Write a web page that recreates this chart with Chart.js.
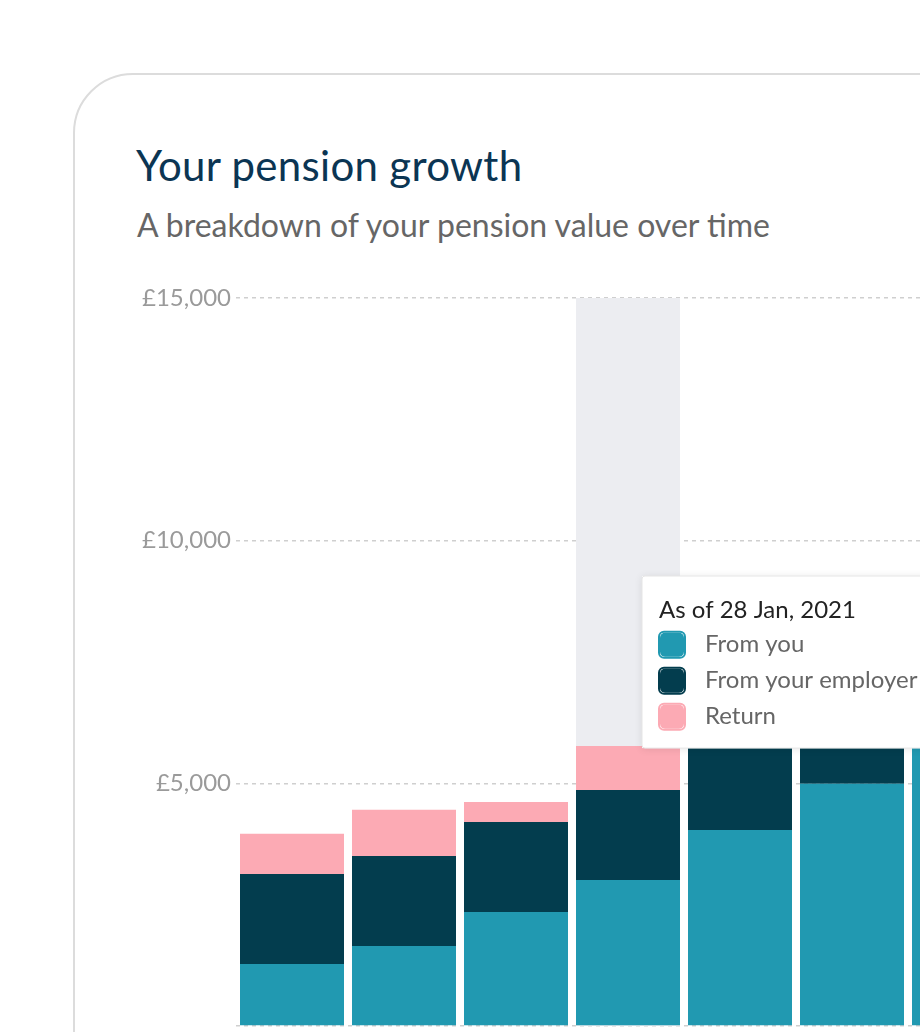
<!DOCTYPE html>
<html>
<head>
<meta charset="utf-8">
<script src="https://cdn.jsdelivr.net/npm/chart.js@4.4.1/dist/chart.umd.min.js"></script>
<style>
  html, body { margin: 0; padding: 0; background: #fff; overflow: hidden; width: 920px; height: 1032px; }
  .card {
    position: absolute; left: 73px; top: 73px; width: 1300px; height: 1300px;
    border: 2px solid #dcdcdc; border-radius: 60px; box-sizing: border-box; background: #fff;
  }
  h1 {
    position: absolute; left: 136px; top: 140px; margin: 0;
    font: 400 42px/1.2 Lato, sans-serif; color: #0b3553; white-space: nowrap; letter-spacing: 0.3px;
  }
  p.sub {
    position: absolute; left: 137px; top: 206px; margin: 0;
    font: 400 32px/1.2 Lato, sans-serif; color: #666; white-space: nowrap;
  }
  .chart-box { position: absolute; left: 100px; top: 248px; width: 1100px; height: 800px; }
</style>
</head>
<body>
<div class="card"></div>
<h1>Your pension growth</h1>
<p class="sub">A breakdown of your pension value over time</p>
<div class="chart-box"><canvas id="pensionChart"></canvas></div>

<script>
// monthly snapshots
const dates = ['28 Oct, 2020', '28 Nov, 2020', '28 Dec, 2020', '28 Jan, 2021',
               '28 Feb, 2021', '28 Mar, 2021', '28 Apr, 2021', '28 May, 2021'];
const fromYou = [1280, 1650, 2350, 3010, 4040, 4990, 6100, 6900];
const fromEmployer = [1850, 1855, 1855, 1855, 1950, 2000, 2000, 2100];
const returns = [830, 950, 410, 905, 1000, 1100, 900, 1200];
const yTicks = [0, 5000, 10000, 15000];
const activeIndex = 3;

const TEAL = '#2199b1';
const NAVY = '#033d4e';
const PINK = '#fcaab4';

// grey column behind the hovered bar
const hoverColumn = {
  id: 'hoverColumn',
  beforeDatasetsDraw(chart) {
    const active = chart.tooltip.getActiveElements();
    if (!active.length) return;
    const el = active[0].element;
    const area = chart.chartArea;
    const ctx = chart.ctx;
    ctx.save();
    ctx.fillStyle = '#ecedf1';
    ctx.fillRect(el.x - el.width / 2, area.top, el.width, area.bottom - area.top);
    ctx.restore();
  },
  beforeTooltipDraw(chart) {
    const tt = chart.tooltip;
    if (!tt.opacity) return;
    const ctx = chart.ctx;
    ctx.save();
    ctx.shadowColor = 'rgba(0,0,0,0.10)';
    ctx.shadowBlur = 8;
    ctx.shadowOffsetY = 1;
    ctx.fillStyle = '#fff';
    ctx.fillRect(tt.x, tt.y, tt.width, tt.height);
    ctx.restore();
  }
};

Chart.Tooltip.positioners.nextToBar = function (elements, eventPosition) {
  if (!elements.length) return false;
  return { x: elements[0].element.x + 17, y: eventPosition.y };
};

const ctx = document.getElementById('pensionChart');
const chart = new Chart(ctx, {
  type: 'bar',
  data: {
    labels: dates,
    datasets: [
      { label: 'From you', data: fromYou, backgroundColor: TEAL, hoverBackgroundColor: TEAL },
      { label: 'From your employer', data: fromEmployer, backgroundColor: NAVY, hoverBackgroundColor: NAVY },
      { label: 'Return', data: returns, backgroundColor: PINK, hoverBackgroundColor: PINK }
    ]
  },
  plugins: [hoverColumn],
  options: {
    responsive: true,
    maintainAspectRatio: false,
    animation: false,
    events: [],
    layout: { padding: { top: 50, bottom: 22, left: 0, right: 68 } },
    datasets: {
      bar: { barPercentage: 104 / 112, categoryPercentage: 1, borderWidth: 0 }
    },
    scales: {
      x: { stacked: true, display: false },
      y: {
        stacked: true,
        min: 0,
        max: 15000,
        afterFit(scale) { scale.width = 136; },
        afterBuildTicks(scale) { scale.ticks = yTicks.map(v => ({ value: v })); },
        border: { display: false, dash: [4, 4] },
        grid: { color: '#cfcfcf', lineWidth: 1.5, drawTicks: false },
        ticks: {
          padding: 5,
          color: '#9a9a9a',
          font: { family: 'Lato', size: 24 },
          callback: v => v === 0 ? '' : '£' + v.toLocaleString('en-GB')
        }
      }
    },
    plugins: {
      legend: { display: false },
      tooltip: {
        mode: 'index',
        position: 'nextToBar',
        xAlign: 'left',
        yAlign: 'top',
        caretSize: 0,
        caretPadding: 0,
        cornerRadius: 3,
        backgroundColor: '#fff',
        borderColor: '#e6e6e6',
        borderWidth: 1,
        padding: { top: 20, bottom: 17, left: 17, right: 16 },
        titleColor: '#222',
        titleFont: { family: 'Lato', size: 24, weight: 'normal' },
        titleMarginBottom: 5.5,
        bodyColor: '#666',
        bodyFont: { family: 'Lato', size: 24 },
        bodySpacing: 7.2,
        boxWidth: 26,
        boxHeight: 26,
        boxPadding: 18,
        multiKeyBackground: '#fff',
        callbacks: {
          title: items => 'As of ' + items[0].label,
          label: item => item.dataset.label,
          labelColor: item => ({
            borderColor: item.dataset.backgroundColor,
            backgroundColor: item.dataset.backgroundColor,
            borderWidth: 2,
            borderRadius: 5
          })
        }
      }
    }
  }
});

chart.tooltip.setActiveElements(
  [0, 1, 2].map(d => ({ datasetIndex: d, index: activeIndex })),
  { x: 0, y: 576 - 248 }
);
chart.update();
</script>
</body>
</html>
